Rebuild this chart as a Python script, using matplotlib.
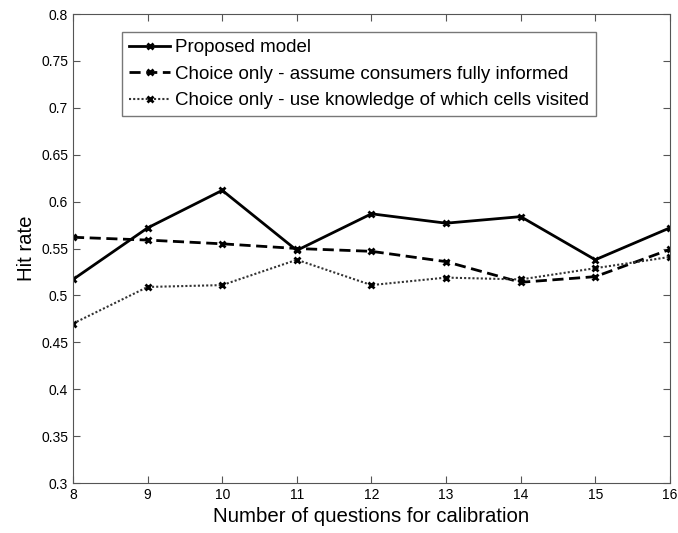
import matplotlib
matplotlib.use("Agg")
import matplotlib.pyplot as plt

plt.rcParams['font.family'] = ['Liberation Sans', 'DejaVu Sans']

questions = [8, 9, 10, 11, 12, 13, 14, 15, 16]
proposed = [0.517, 0.572, 0.612, 0.548, 0.587, 0.577, 0.584, 0.538, 0.572]
choice_informed = [0.562, 0.559, 0.555, 0.550, 0.547, 0.536, 0.514, 0.520, 0.549]
choice_visited = [0.470, 0.509, 0.511, 0.538, 0.511, 0.519, 0.517, 0.529, 0.541]
labels = ['Proposed model',
          'Choice only - assume consumers fully informed',
          'Choice only - use knowledge of which cells visited']
yticks = [0.3, 0.35, 0.4, 0.45, 0.5, 0.55, 0.6, 0.65, 0.7, 0.75, 0.8]

fig = plt.figure(figsize=(6.78, 5.33), dpi=100)
ax = fig.add_axes([0.1077, 0.0938, 0.8803, 0.8799])

mk = dict(marker='x', markersize=5, markeredgewidth=2, markeredgecolor='black')
ax.plot(questions, proposed, '-', linewidth=2, color='black', label=labels[0], **mk)
ax.plot(questions, choice_informed, '--', linewidth=2, dashes=(4, 2), color='black',
        label=labels[1], **mk)
ax.plot(questions, choice_visited, ':', linewidth=1.5, dashes=(1, 1), color='#333333',
        label=labels[2], **mk)

ax.set_xlim(8, 16)
ax.set_ylim(0.3, 0.8)
ax.set_xticks(questions)
ax.set_xticklabels([str(q) for q in questions])
ax.set_yticks(yticks)
ax.set_yticklabels(['%g' % v for v in yticks])
ax.tick_params(direction='in', top=True, right=True, labelsize=10, length=5, color='#555555')
for s in ax.spines.values():
    s.set_color('#555555')
ax.set_xlabel('Number of questions for calibration', fontsize=14.7)
ax.set_ylabel('Hit rate', fontsize=14.7)

leg = ax.legend(loc='upper left', bbox_to_anchor=(0.082, 0.9616), fontsize=13.5,
                frameon=True, fancybox=False, edgecolor='#555555',
                handlelength=2.2, handletextpad=0.27, borderpad=0.37, labelspacing=0.5,
                borderaxespad=0)
leg.get_frame().set_linewidth(1)

fig.savefig('out.png', dpi=100)
